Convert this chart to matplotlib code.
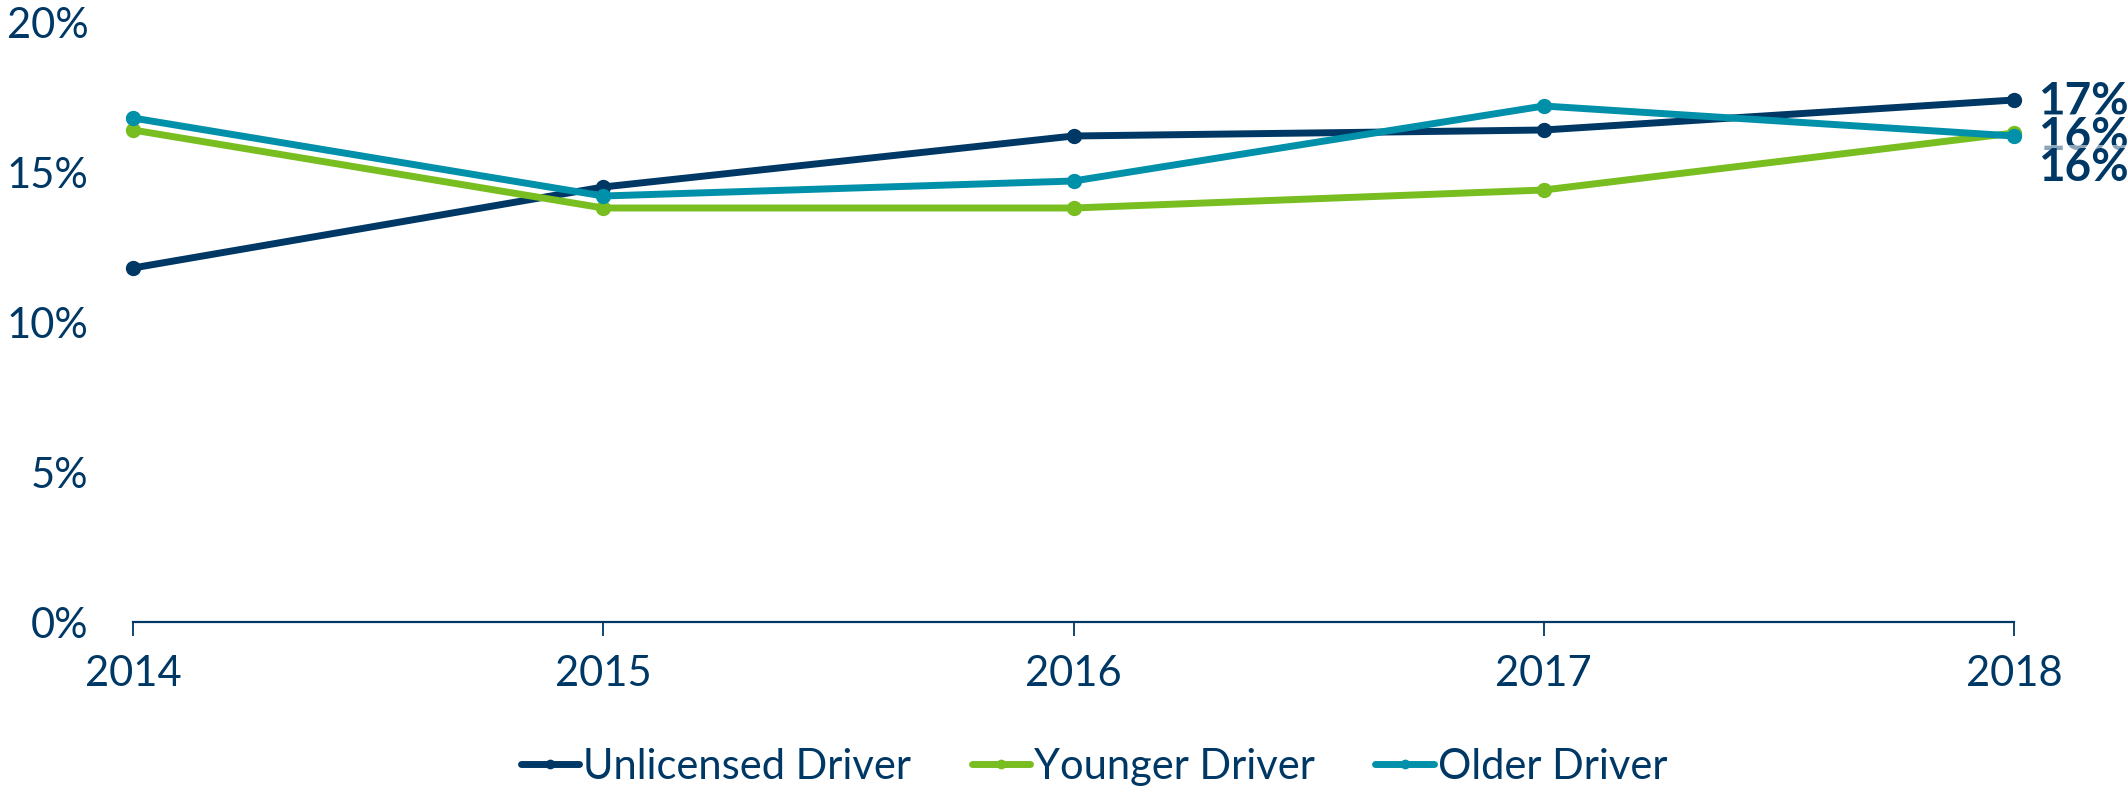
import matplotlib.pyplot as plt
from matplotlib.ticker import FuncFormatter

# values (percent)
years = [2014, 2015, 2016, 2017, 2018]
unlicensed = [11.8, 14.5, 16.2, 16.4, 17.4]
younger = [16.4, 13.8, 13.8, 14.4, 16.3]
older = [16.8, 14.2, 14.7, 17.2, 16.2]
end_labels = ['17%', '16%', '16%']
series_names = ['Unlicensed Driver', 'Younger Driver', 'Older Driver']

navy = '#003865'
green = '#78be20'
teal = '#0090a9'

plt.rcParams['font.family'] = ['Lato', 'DejaVu Sans']

fig = plt.figure(figsize=(21.28, 7.88), dpi=100)
ax = fig.add_axes([133 / 2128, 1 - 622 / 788, (2014 - 133) / 2128, 600 / 788])

series = [unlicensed, younger, older]
colors = [navy, green, teal]
for vals, col, name in zip(series, colors, series_names):
    ax.plot(years, vals, color=col, linewidth=5, marker='o', markersize=10,
            label=name, solid_capstyle='round', clip_on=False, zorder=3)

ax.set_xlim(2014, 2018)
ax.set_ylim(0, 20)
ax.set_xticks(years)
ax.set_yticks([0, 5, 10, 15, 20])
ax.yaxis.set_major_formatter(FuncFormatter(lambda v, p: f'{v:.0f}%'))

for s in ['top', 'right', 'left']:
    ax.spines[s].set_visible(False)
ax.spines['bottom'].set_color(navy)
ax.spines['bottom'].set_linewidth(1.6)
ax.tick_params(axis='x', length=10, width=1.3, color=navy, labelcolor=navy,
               labelsize=30, pad=14)
ax.tick_params(axis='y', length=0, labelcolor=navy, labelsize=30, pad=32)

# end-of-line value labels (they overlap in the original too)
offsets = [-2, -4, -32]
for vals, txt, off in zip(series, end_labels, offsets):
    ax.annotate(txt, xy=(years[-1], vals[-1]), xytext=(24, off),
                textcoords='offset pixels', ha='left', va='center',
                fontsize=33, fontweight='bold', color=navy, annotation_clip=False,
                bbox=dict(boxstyle='square,pad=0.05', fc='white', ec='none', alpha=0.55))

leg = fig.legend(loc='center', bbox_to_anchor=(1094 / 2128, 1 - 767 / 788), ncol=3,
                 frameon=False, fontsize=30, handlelength=1.4, handletextpad=0.1,
                 columnspacing=1.45, markerscale=0.6)
for t in leg.get_texts():
    t.set_color(navy)

fig.savefig('out.png', dpi=100, facecolor='white')
